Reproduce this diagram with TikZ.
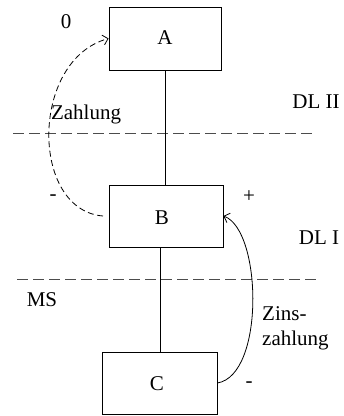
\documentclass[tikz,border=0pt]{standalone}
\usepackage{fontspec}
\setmainfont{Liberation Serif}
\usetikzlibrary{arrows.meta,positioning}

\tikzset{
    levelbox/.style={draw,thick,minimum width=114pt,minimum height=62pt,inner sep=0pt},
    txt/.style={font=\fontsize{21}{25}\selectfont,inner sep=0pt},
    levelline/.style={black!70,thick,dash pattern=on 11pt off 5pt}
}

\begin{document}
\begin{tikzpicture}[x=1pt,y=-1pt]
        % Frame
        \useasboundingbox (0,0) rectangle (344,416);
        
        % Boxes
        \node[levelbox,minimum width=112pt,minimum height=63pt] (A) at (165,38.5) {};
        \node[txt] (lblA) at (165,38) {A};
        \node[levelbox] (B) at (166,216) {};
        \node[txt] (lblB) at (162,218) {B};
        \node[levelbox,minimum width=115pt] (C) at (159.5,383) {};
        \node[txt] (lblC) at (157,384) {C};
        
        % Level separators
        \coordinate (d1l) at (13,133);
        \coordinate (d1r) at (315,133);
        \coordinate (d2l) at (17,279);
        \coordinate (d2r) at (318,279);
        \draw[levelline] (d1l) -- (d1r);
        \draw[levelline] (d2l) -- (d2r);
        
        % Connections between levels
        \draw[thick] (A.south) -- (A.south |- B.north);
        \coordinate (bs) at (160,247);
        \draw[thick] (bs) -- (bs |- C.north);
        
        % Payment arcs
        \coordinate (bw) at (103,216);
        \draw[thick,dash pattern=on 6pt off 3.5pt,-{Straight Barb[length=5pt,width=10pt]}] 
            (bw) .. controls (30,210) and (30,60) .. (A.west);
        \draw[thick,-{Straight Barb[length=5pt,width=10pt]}] 
            (C.east) .. controls (265,375) and (262,230) .. (B.east);
        
        % Labels
        \node[txt] (zero) at (66,22) {0};
        \node[txt] (zahl) at (86,114) {Zahlung};
        \node[txt] (dl2) at (316,102) {DL II};
        \node[txt] (minusB) at (53,198) {-};
        \node[txt] (plusB) at (249,197) {+};
        \node[txt] (dl1) at (319,238) {DL I};
        \node[txt] (ms) at (42,300) {MS};
        \node[txt,align=left,anchor=north west] (zins) at (262,306) {Zins-\\zahlung};
        \node[txt] (minusC) at (249,385) {-};
        
    \end{tikzpicture}
\end{document}
